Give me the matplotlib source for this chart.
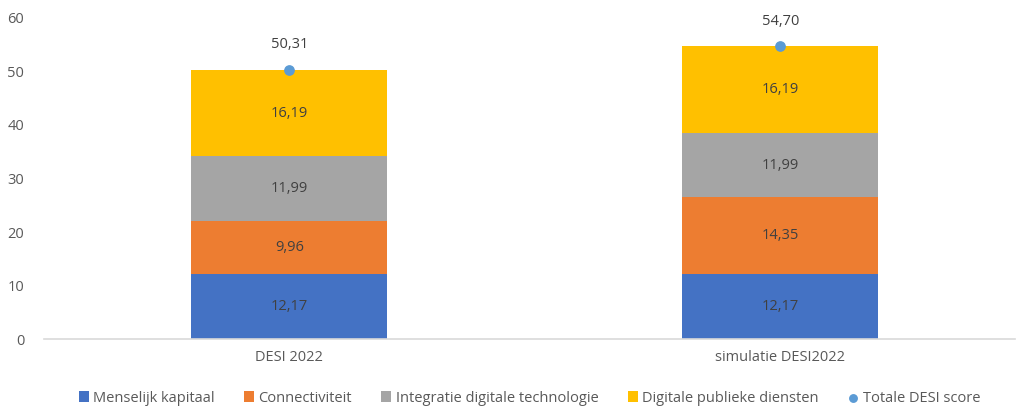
import matplotlib.pyplot as plt
import numpy as np

categories = ["DESI 2022", "simulatie DESI2022"]
series_names = ["Menselijk kapitaal", "Connectiviteit",
                "Integratie digitale technologie", "Digitale publieke diensten"]
menselijk = [12.17, 12.17]
connectiviteit = [9.96, 14.35]
integratie = [11.99, 11.99]
publiek = [16.19, 16.19]
totaal = [50.31, 54.70]

colors = ["#4472C4", "#ED7D31", "#A5A5A5", "#FFC000"]
txt = "#595959"

plt.rcParams['font.family'] = ['Open Sans', 'DejaVu Sans']

fig = plt.figure(figsize=(10.17, 4.08), dpi=100)
ax = fig.add_axes([0.043, 0.169, 0.955, 0.787])

x = np.arange(len(categories))
bottom = np.zeros(len(categories))
handles = []
for vals, name, c in zip([menselijk, connectiviteit, integratie, publiek], series_names, colors):
    h = ax.bar(x, vals, 0.40, bottom=bottom, color=c, label=name, zorder=2)
    handles.append(h)
    for xi, b, v in zip(x, bottom, vals):
        ax.text(xi, b + v / 2, f"{v:.2f}".replace(".", ","), ha="center", va="center",
                fontsize=10.5, color="#404040", zorder=3)
    bottom += np.array(vals)

sc = ax.scatter(x, totaal, s=45, color="#5B9BD5", zorder=4, label="Totale DESI score")
handles.append(sc)
for xi, t in zip(x, totaal):
    ax.text(xi, t + 3.3, f"{t:.2f}".replace(".", ","), ha="center", va="bottom",
            fontsize=10.5, color="#404040")

ax.set_xlim(-0.5, 1.478)
ax.set_ylim(0, 60)
ax.set_yticks(range(0, 61, 10))
ax.set_xticks(x)
ax.set_xticklabels(categories)
for s in ["top", "right", "left"]:
    ax.spines[s].set_visible(False)
ax.spines["bottom"].set_color("#D9D9D9")
ax.spines["bottom"].set_linewidth(1.2)
ax.tick_params(axis="both", length=0, labelsize=10.5, labelcolor=txt)
ax.tick_params(axis="y", pad=14)
ax.tick_params(axis="x", pad=8)

ax.legend(handles=handles, loc="upper center", bbox_to_anchor=(0.5, -0.12), ncol=5,
          frameon=False, fontsize=10.5, labelcolor=txt, handlelength=0.7,
          handleheight=0.7, handletextpad=0.3, columnspacing=2.0, markerscale=0.8)

fig.savefig("out.png", dpi=100)
